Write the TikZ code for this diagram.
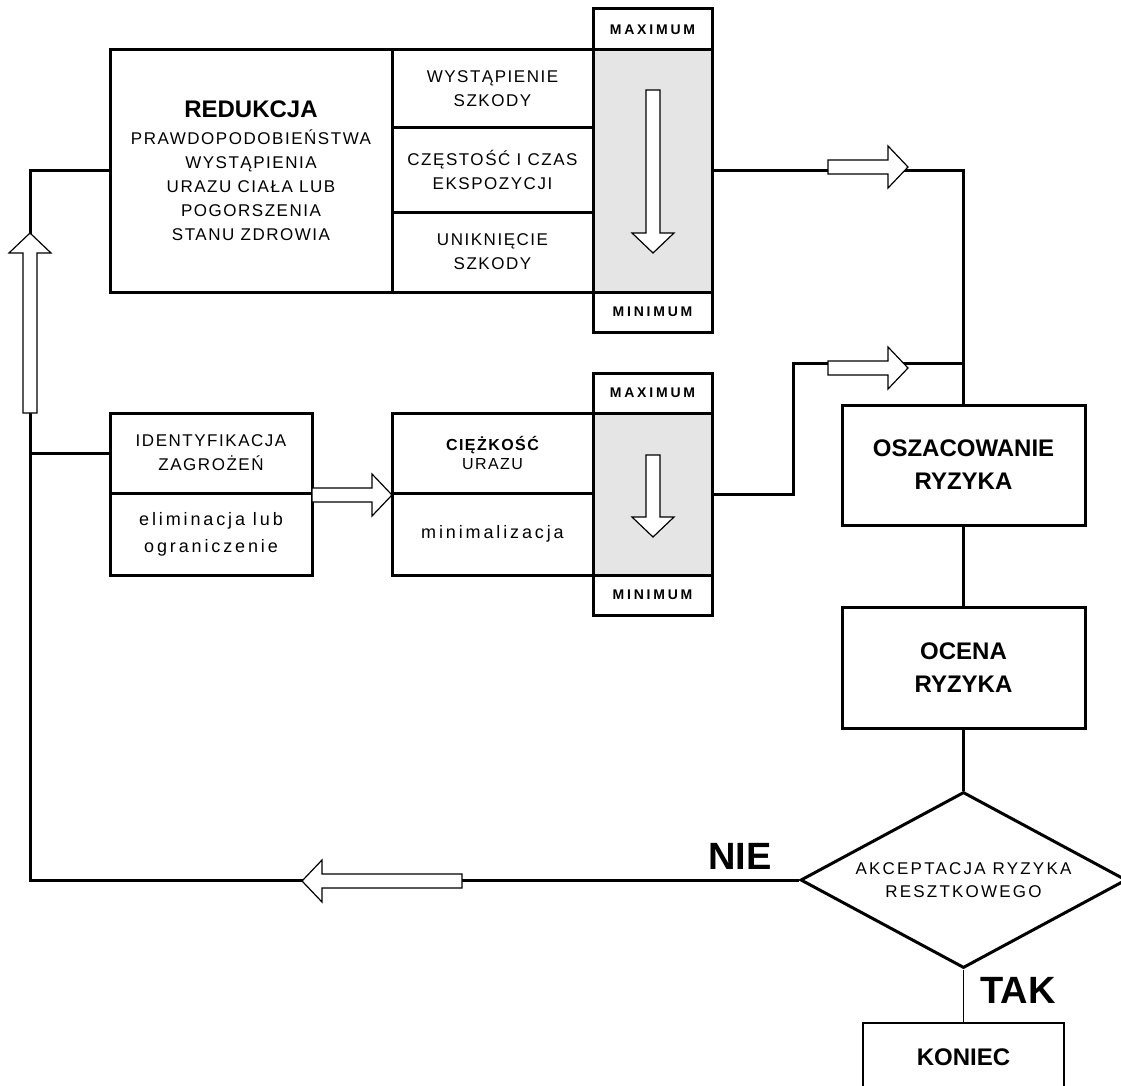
\documentclass[tikz,border=0pt]{standalone}
\usepackage{fontspec}
\setmainfont{Liberation Sans}
\newfontfamily\rozstaw[LetterSpace=9]{Liberation Sans}
\newfontfamily\rozstawmaly[LetterSpace=16]{Liberation Sans}
\newfontfamily\rozstawromb[LetterSpace=13]{Liberation Sans}
\newfontfamily\rozstawgruby[LetterSpace=20]{Liberation Sans}
\usetikzlibrary{shapes.geometric}
\def\grub{3pt}
\tikzset{
  blok/.style={draw, line width=\grub, inner sep=0pt, align=center,
    font=\rozstaw\fontsize{17}{24}\selectfont},
  wym/.style 2 args={minimum width=#1, minimum height=#2},
  szary/.style={blok, fill=gray!20},
  skala/.style={blok, font=\rozstawgruby\bfseries\fontsize{14}{16}\selectfont},
  tytul/.style={font=\normalfont\bfseries\fontsize{24}{33}\selectfont},
  pusta/.style={draw, fill=white, line width=1.2pt},
}
% pusta strzalka: grot w (#1,#2), kierunek #3, dlugosc #4
\newcommand{\strzalka}[4]{%
  \begin{scope}[shift={(#1,#2)}, rotate=#3]
    \draw[pusta] (0,0) -- (-20,21) -- (-20,7) -- (-#4,7) -- (-#4,-7)
      -- (-20,-7) -- (-20,-21) -- cycle;
  \end{scope}}

\begin{document}
\begin{tikzpicture}[x=1pt,y=-1pt,line width=\grub]
\useasboundingbox (0,0) rectangle (1121,1086);
% gorny blok
\node[blok, wym={282}{242}] (redukcja) at (251,171)
  {{\normalfont\bfseries\fontsize{24}{27}\selectfont REDUKCJA}\\[3pt]
   PRAWDOPODOBIEŃSTWA\\WYSTĄPIENIA\\URAZU CIAŁA LUB\\POGORSZENIA\\STANU ZDROWIA};
\node[blok, wym={201}{78}] (wystapienie) at (492.5,89) {WYSTĄPIENIE\\SZKODY};
\node[blok, wym={201}{84}] (czestosc) at (492.5,170) {CZĘSTOŚĆ I CZAS\\EKSPOZYCJI};
\node[blok, wym={201}{80}] (unikniecie) at (492.5,252) {UNIKNIĘCIE\\SZKODY};
\node[szary, wym={119}{242}] (szary1) at (652.5,171) {};
\node[skala, wym={119}{41}] (max1) at (652.5,29.5) {MAXIMUM};
\node[skala, wym={119}{40}] (min1) at (652.5,312) {MINIMUM};
% srodkowy blok
\node[blok, wym={202}{80}] (identyfikacja) at (211,453) {IDENTYFIKACJA\\ZAGROŻEŃ};
\node[blok, wym={202}{82}, font=\rozstawmaly\fontsize{18}{27}\selectfont]
  (eliminacja) at (211,534) {eliminacja lub\\ograniczenie};
\node[blok, wym={201}{80}, font=\rozstaw\fontsize{16}{19}\selectfont]
  (ciezkosc) at (492.5,453) {{\bfseries CIĘŻKOŚĆ}\\URAZU};
\node[blok, wym={201}{82}, font=\rozstawmaly\fontsize{18}{22}\selectfont]
  (minimalizacja) at (492.5,534) {minimalizacja};
\node[szary, wym={119}{162}] (szary2) at (652.5,494) {};
\node[skala, wym={119}{40}] (max2) at (652.5,393) {MAXIMUM};
\node[skala, wym={119}{40}] (min2) at (652.5,595) {MINIMUM};
% prawa kolumna
\node[blok, wym={243}{120}, tytul] (oszacowanie) at (963.5,465) {OSZACOWANIE\\RYZYKA};
\node[blok, wym={243}{121}, tytul] (ocena) at (963.5,667.5) {OCENA\\RYZYKA};
\node[diamond, draw, inner sep=0pt, aspect=1.85, wym={326}{176}, align=center,
  font=\rozstawromb\fontsize{17}{23}\selectfont]
  (akceptacja) at (963.5,880) {AKCEPTACJA RYZYKA\\RESZTKOWEGO};
\node[draw, line width=1.3pt, wym={201}{68}, tytul] (koniec) at (963.5,1057) {KONIEC};
\node[font=\bfseries\fontsize{38}{40}\selectfont] (nie) at (740,856) {NIE};
\node[font=\bfseries\fontsize{38}{40}\selectfont] (tak) at (1018,990) {TAK};
% polaczenia
\coordinate (rogG) at (30,171);
\coordinate (rogD) at (30,880);
\coordinate (zalom) at (793,363);
\coordinate (zbieg) at (zalom -| oszacowanie.north);
\draw (szary1.east) -| (oszacowanie.north);
\draw (szary2.east) -| (zalom) -- (zbieg);
\draw (oszacowanie) -- (ocena);
\draw (ocena) -- (akceptacja);
\draw[line width=1.3pt] (akceptacja) -- (koniec);
\draw (akceptacja.west) -- (rogD) -- (rogG) -- (redukcja.west);
\draw (identyfikacja.west) -- (identyfikacja.west -| rogD);
% strzalki
\strzalka{30}{233}{90}{180}
\strzalka{908}{167}{0}{80}
\strzalka{908}{368}{0}{80}
\strzalka{392}{495}{0}{80}
\strzalka{302}{881}{180}{160}
\strzalka{653}{253}{-90}{163}
\strzalka{653}{537}{-90}{82}
\end{tikzpicture}
\end{document}
